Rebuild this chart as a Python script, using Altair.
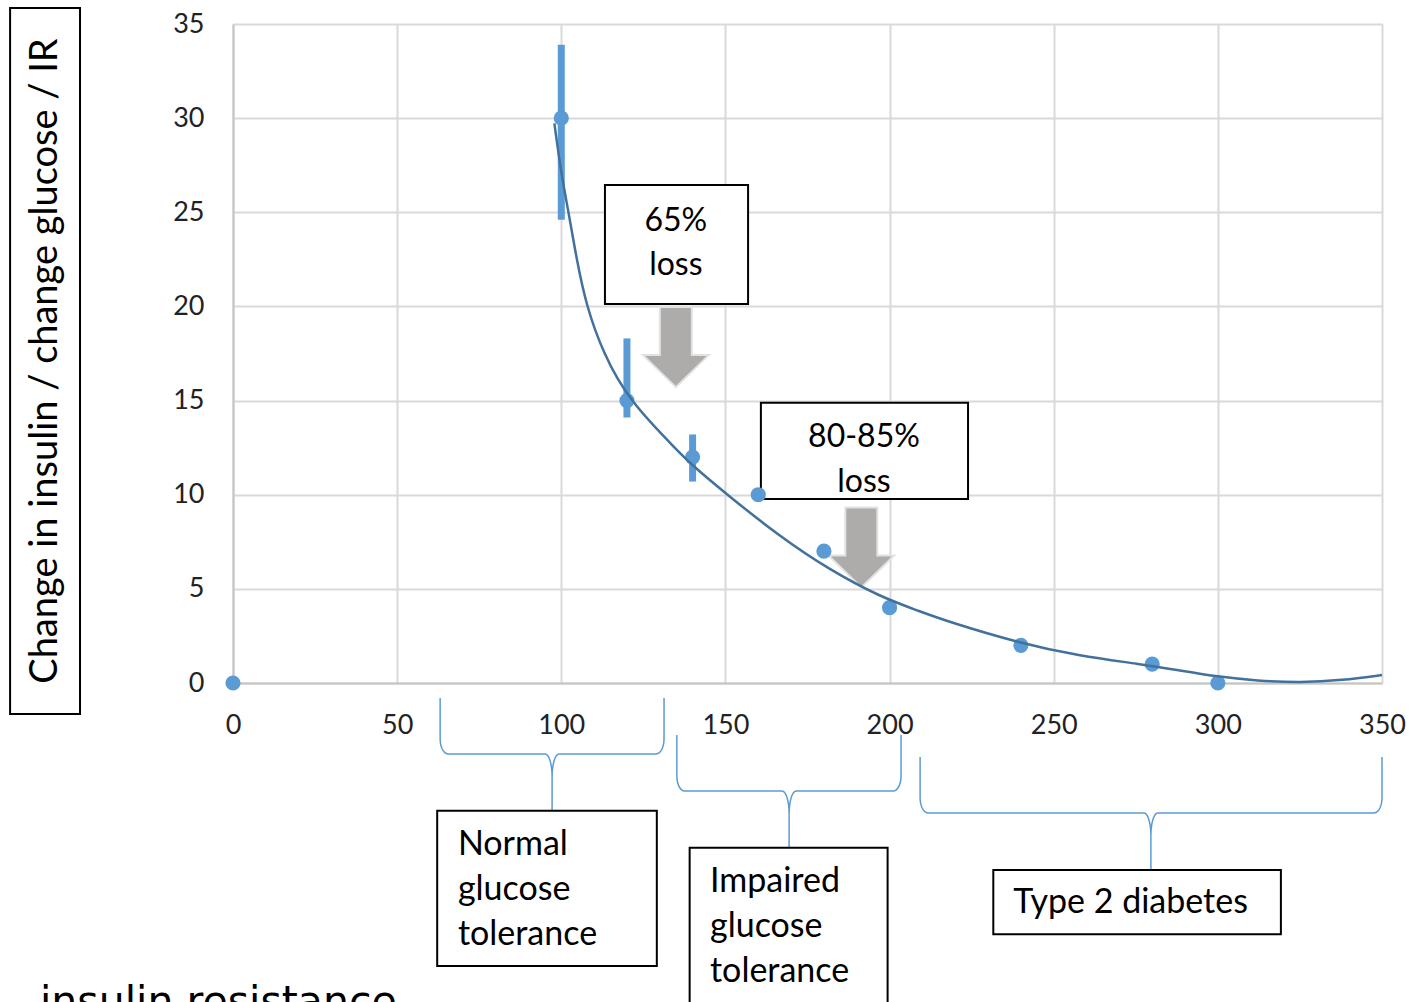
import math
import numpy as np
import pandas as pd
import altair as alt

# ---------------- data ----------------
glucose = [0, 100, 120, 140, 160, 180, 200, 240, 280, 300]
ir_value = [0, 30, 15, 12, 10, 7, 4, 2, 1, 0]

err_x = [100, 120, 140]
err_lo = [24.6, 14.1, 10.7]
err_hi = [33.9, 18.3, 13.2]

trend_x = [97.9, 100, 102.3, 104.7, 107.7, 112.8, 120.4, 136.2, 139.7, 149.4, 166.6,
           181.8, 197.1, 209.3, 217.4, 239.7, 258, 276.3, 288, 300, 312, 325, 338, 350]
trend_y = [29.72, 27.0, 24.94, 22.47, 19.98, 17.51, 15.03, 12.2, 11.6, 10.16, 7.77,
           6.0, 4.58, 3.8, 3.28, 2.11, 1.43, 1.01, 0.68, 0.33, 0.12, 0.02, 0.14, 0.42]

x_ticks = [0, 50, 100, 150, 200, 250, 300, 350]
y_ticks = [0, 5, 10, 15, 20, 25, 30, 35]

y_title = "Change in insulin / change glucose / IR"

# annotation boxes (data units): x1, x2, y1, y2
box_names = ["ytitle", "loss65", "loss80", "normal", "impaired", "type2"]
box_x1 = [-67.9, 113.3, 160.8, 62.2, 139.1, 231.6]
box_x2 = [-46.6, 156.9, 223.9, 129.1, 199.4, 319.2]
box_y1 = [35.85, 26.45, 14.89, -6.78, -8.75, -9.93]
box_y2 = [-1.65, 20.13, 9.77, -15.03, -17.6, -13.35]

# annotation texts
loss_lines = ["65%", "loss", "80-85%", "loss"]
loss_x = [134.9, 134.9, 192.2, 192.2]
loss_y = [24.02, 21.67, 12.55, 10.16]

stage_lines = ["Normal", "glucose", "tolerance",
               "Impaired", "glucose", "tolerance",
               "Type 2 diabetes"]
stage_x = [68.5, 68.5, 68.5, 145.3, 145.3, 145.3, 237.7]
stage_y = [-9.13, -11.52, -13.91, -11.12, -13.49, -15.86, -12.23]

# braces: left, right, centre, top of arms, bar, tip
brace_xl = [63.1, 135.2, 209.3]
brace_xr = [131.3, 203.5, 350.0]
brace_xc = [97.2, 169.4, 279.6]
brace_yt = [-0.80, -2.76, -3.93]
brace_yb = [-3.77, -5.74, -6.90]
brace_ytip = [-6.74, -8.71, -9.93]

# arrows (centres)
arrow_x = [134.9, 191.4]
arrow_y = [17.84, 7.20]

# ---------------- build tables ----------------
pts = pd.DataFrame({"x": glucose, "y": ir_value})
errs = pd.DataFrame({"x": err_x, "y": err_lo, "y2": err_hi})
trend = pd.DataFrame({"x": trend_x, "y": trend_y})
boxes = pd.DataFrame({"name": box_names, "x": box_x1, "x2": box_x2,
                      "y": box_y1, "y2": box_y2})
loss_df = pd.DataFrame({"t": loss_lines, "x": loss_x, "y": loss_y})
stage_df = pd.DataFrame({"t": stage_lines, "x": stage_x, "y": stage_y})
arrows = pd.DataFrame({"x": arrow_x, "y": arrow_y})


def brace_points(xl, xr, xc, yt, yb, ytip, dx=2.4, dy=0.8, cdx=2.1, cdy=1.2, n=8):
    p = [(xl, yt)]
    for th in np.linspace(math.pi, 1.5 * math.pi, n):
        p.append((xl + dx + dx * math.cos(th), yb + dy + dy * math.sin(th)))
    for th in np.linspace(0.5 * math.pi, 0, n):
        p.append((xc - cdx + cdx * math.cos(th), yb - cdy + cdy * math.sin(th)))
    p.append((xc, ytip))
    p.append((xc, yb - cdy))
    for th in np.linspace(math.pi, 0.5 * math.pi, n):
        p.append((xc + cdx + cdx * math.cos(th), yb - cdy + cdy * math.sin(th)))
    for th in np.linspace(1.5 * math.pi, 2 * math.pi, n):
        p.append((xr - dx + dx * math.cos(th), yb + dy + dy * math.sin(th)))
    p.append((xr, yt))
    return p


rows = []
for i in range(len(brace_xl)):
    for k, (bx, by) in enumerate(brace_points(brace_xl[i], brace_xr[i], brace_xc[i],
                                              brace_yt[i], brace_yb[i], brace_ytip[i])):
        rows.append({"b": i, "o": k, "x": bx, "y": by})
braces = pd.DataFrame(rows)

# ---------------- chart ----------------
FONT = "Lato"
xs = alt.Scale(domain=[0, 350], nice=False, zero=False)
ys = alt.Scale(domain=[0, 35], nice=False, zero=False)

xaxis = alt.Axis(values=x_ticks, ticks=False, labelFontSize=27, labelFont=FONT,
                 labelColor="#222222", labelPadding=29, grid=True, gridColor="#d9d9d9",
                 gridWidth=2, domainColor="#c4c4c4", domainWidth=2, title=None,
                 labelFlush=False)
yaxis = alt.Axis(values=y_ticks, ticks=False, labelFontSize=27, labelFont=FONT,
                 labelColor="#222222", labelPadding=29, grid=True, gridColor="#d9d9d9",
                 gridWidth=2, domainColor="#c4c4c4", domainWidth=2, title=None)

X0 = alt.X("x:Q", scale=xs, axis=xaxis)
Y0 = alt.Y("y:Q", scale=ys, axis=yaxis)

brace_layer = alt.Chart(braces).mark_line(color="#5b9bd5", strokeWidth=1.5).encode(
    x=X0, y=Y0, detail="b:N", order="o:Q")

box_layer = alt.Chart(boxes).mark_rect(fill="white", stroke="black",
                                       strokeWidth=2).encode(
    x=X0, x2="x2:Q", y=Y0, y2="y2:Q")

arrow_shape = "M -0.4 -1 L 0.4 -1 L 0.4 0.2 L 0.82 0.2 L 0 1 L -0.82 0.2 L -0.4 0.2 Z"
arrow_layer = alt.Chart(arrows).mark_point(shape=arrow_shape, size=6400, filled=True,
                                           fill="#aeabab", fillOpacity=1,
                                           stroke="#e2e2e2", strokeWidth=2,
                                           opacity=1).encode(x=X0, y=Y0)

err_layer = alt.Chart(errs).mark_rule(color="#5b9bd5", strokeWidth=7).encode(
    x=X0, y=Y0, y2="y2:Q")

pt_layer = alt.Chart(pts).mark_circle(color="#5b9bd5", size=230, opacity=1,
                                      clip=False).encode(x=X0, y=Y0)

trend_layer = alt.Chart(trend).mark_line(color="#41719c", strokeWidth=2.5,
                                         interpolate="basis").encode(x=X0, y=Y0)

text_loss = alt.Chart(loss_df).mark_text(
    font=FONT, fontSize=32, color="black", align="center",
    baseline="alphabetic").encode(x=X0, y=Y0, text="t:N")
text_stage = alt.Chart(stage_df).mark_text(
    font=FONT, fontSize=34, color="black", align="left",
    baseline="alphabetic").encode(x=X0, y=Y0, text="t:N")

ytitle_layer = alt.Chart(pd.DataFrame({"x": [-56.9], "y": [17.1], "t": [y_title]})).mark_text(
    font=FONT, fontSize=38, color="black", angle=270, align="center",
    baseline="middle").encode(x=X0, y=Y0, text="t:N")

bottom_layer = alt.Chart(pd.DataFrame({"x": [-58.8], "y": [-17.63],
                                       "t": ["insulin resistance"]})).mark_text(
    font="DejaVu Sans", fontSize=41, color="black", align="left",
    baseline="alphabetic").encode(x=X0, y=Y0, text="t:N")

chart = alt.layer(
    brace_layer, box_layer, arrow_layer, err_layer, pt_layer,
    trend_layer, text_loss, text_stage, ytitle_layer, bottom_layer
).properties(
    width=1149, height=659,
    autosize=alt.AutoSizeParams(type="none"),
    padding={"left": 233, "top": 24, "right": 29, "bottom": 319},
).configure_view(stroke=None).configure(background="white")

chart.save("out.html", embed_options={"renderer": "svg", "actions": False})
